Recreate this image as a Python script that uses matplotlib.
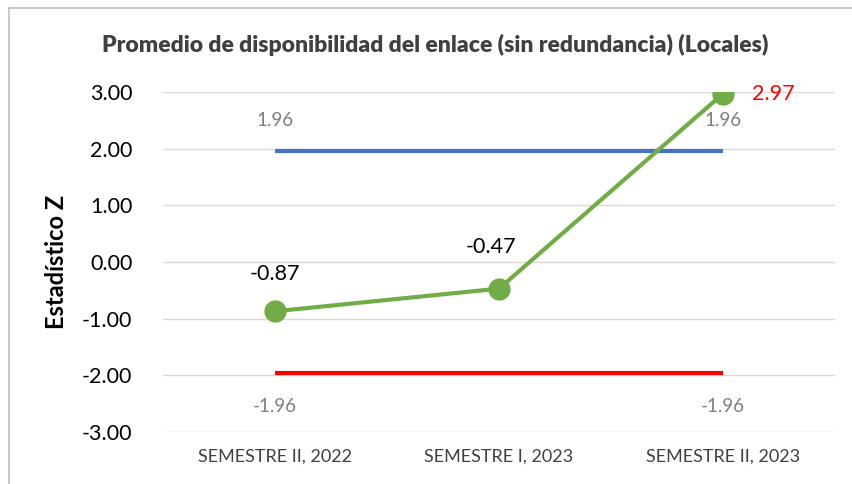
import matplotlib.pyplot as plt
from matplotlib.lines import Line2D

# datos
periodos = ["SEMESTRE II, 2022", "SEMESTRE I, 2023", "SEMESTRE II, 2023"]
estadistico_z = [-0.87, -0.47, 2.97]
limite_sup = [1.96, 1.96, 1.96]
limite_inf = [-1.96, -1.96, -1.96]
yticks = [-3, -2, -1, 0, 1, 2, 3]

plt.rcParams["font.family"] = ["Lato", "DejaVu Sans"]

fig = plt.figure(figsize=(8.53, 4.84), dpi=100)
ax = fig.add_axes([0.191, 0.1074, 0.788, 0.7026])

x = list(range(len(periodos)))

ax.plot(x, limite_sup, color="#4472C4", lw=3, solid_capstyle="butt", zorder=2)
ax.plot(x, limite_inf, color="#FF0000", lw=3, solid_capstyle="butt", zorder=2)
ax.plot(x, estadistico_z, color="#70AD47", lw=3, marker="o", ms=15,
        markerfacecolor="#70AD47", markeredgecolor="#70AD47", zorder=3)

# etiquetas de datos
for i in [0, 2]:
    ax.annotate(f"{limite_sup[i]:.2f}", (x[i], limite_sup[i]), xytext=(0, 22),
                textcoords="offset points", ha="center", va="center",
                fontsize=13.5, color="#7F7F7F")
    ax.annotate(f"{limite_inf[i]:.2f}", (x[i], limite_inf[i]), xytext=(0, -24),
                textcoords="offset points", ha="center", va="center",
                fontsize=13.5, color="#7F7F7F")

ax.annotate(f"{estadistico_z[0]:.2f}", (x[0], estadistico_z[0]), xytext=(0, 27),
            textcoords="offset points", ha="center", va="center",
            fontsize=15.5, color="black")
ax.annotate(f"{estadistico_z[1]:.2f}", (x[1], estadistico_z[1]), xytext=(-6, 30),
            textcoords="offset points", ha="center", va="center",
            fontsize=15.5, color="black")
ax.annotate(f"{estadistico_z[2]:.2f}", (x[2], estadistico_z[2]), xytext=(36, 0),
            textcoords="offset points", ha="center", va="center",
            fontsize=15.5, color="#FF0000")

ax.set_xlim(-0.5, len(periodos) - 0.5)
ax.set_ylim(-3, 3)
ax.set_yticks(yticks)
ax.set_yticklabels([f"{v:.2f}" for v in yticks], fontsize=15.5, color="black")
ax.set_xticks(x)
ax.set_xticklabels(periodos, fontsize=13, color="#404040")
ax.tick_params(length=0)
ax.tick_params(axis="y", pad=22)
ax.tick_params(axis="x", pad=12)
ax.grid(axis="y", color="#D9D9D9", lw=1)
ax.set_axisbelow(True)
for s in ax.spines.values():
    s.set_visible(False)

ax.set_ylabel("Estadístico Z", fontsize=17, fontweight="bold", labelpad=10)

fig.text(0.51, 0.907, "Promedio de disponibilidad del enlace (sin redundancia) (Locales)",
         ha="center", va="center", fontsize=16.5, fontweight="heavy", color="#404040")

# marco del grafico
fig.add_artist(Line2D([0.0105, 0.0105], [0, 0.983], transform=fig.transFigure,
                      color="#BFBFBF", lw=1.2))
fig.add_artist(Line2D([0.0105, 1], [0.983, 0.983], transform=fig.transFigure,
                      color="#BFBFBF", lw=1.2))

fig.savefig("out.png", dpi=100)
